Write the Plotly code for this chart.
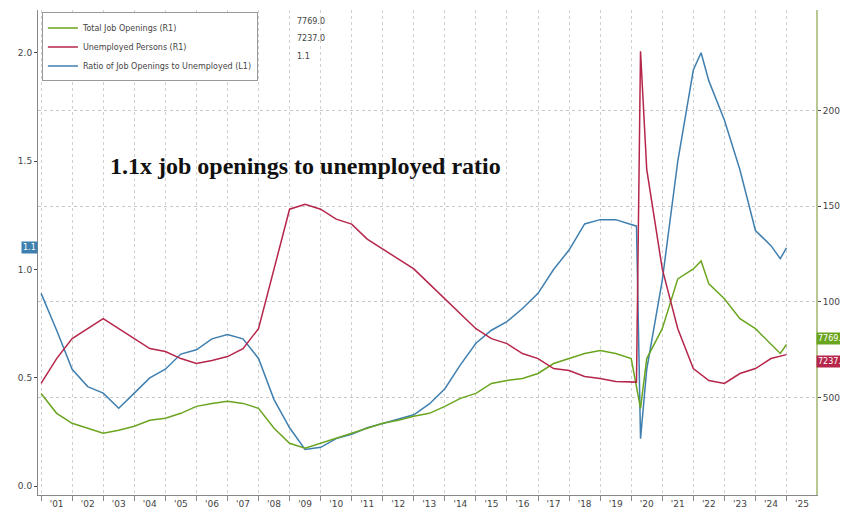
import plotly.graph_objects as go

ratio_t = [2001.0,2001.5,2002.0,2002.5,2003.0,2003.5,2004.0,2004.5,2005.0,2005.5,2006.0,2006.5,2007.0,2007.5,2008.0,2008.5,2009.0,2009.5,2010.0,2010.5,2011.0,2011.5,2012.0,2012.5,2013.0,2013.5,2014.0,2014.5,2015.0,2015.5,2016.0,2016.5,2017.0,2017.5,2018.0,2018.5,2019.0,2019.5,2020.0,2020.17,2020.3,2020.5,2021.0,2021.5,2022.0,2022.25,2022.5,2023.0,2023.5,2024.0,2024.5,2024.8,2025.0]
ratio_v = [0.89,0.72,0.54,0.46,0.43,0.36,0.43,0.50,0.54,0.61,0.63,0.68,0.70,0.68,0.59,0.40,0.27,0.17,0.18,0.22,0.24,0.27,0.29,0.31,0.33,0.38,0.45,0.56,0.66,0.72,0.76,0.82,0.89,1.00,1.09,1.21,1.23,1.23,1.21,1.20,0.22,0.54,0.95,1.50,1.92,2.00,1.87,1.69,1.46,1.18,1.11,1.05,1.10]

unemp_t = [2001.0,2001.5,2002.0,2002.5,2003.0,2003.5,2004.0,2004.5,2005.0,2005.5,2006.0,2006.5,2007.0,2007.5,2008.0,2008.5,2009.0,2009.5,2010.0,2010.5,2011.0,2011.5,2012.0,2012.5,2013.0,2013.5,2014.0,2014.5,2015.0,2015.5,2016.0,2016.5,2017.0,2017.5,2018.0,2018.5,2019.0,2019.5,2020.0,2020.17,2020.3,2020.5,2021.0,2021.5,2022.0,2022.5,2023.0,2023.5,2024.0,2024.5,2025.0]
unemp_v = [5729,7031,8073,8594,9114,8594,8073,7552,7396,7031,6771,6927,7135,7552,8594,11718,14843,15100,14843,14322,14062,13281,12760,12239,11718,10937,10156,9375,8594,8073,7812,7292,7031,6510,6406,6094,5990,5833,5833,5800,23100,16926,11718,8594,6510,5885,5729,6250,6510,7031,7237]

open_t = [2001.0,2001.5,2002.0,2002.5,2003.0,2003.5,2004.0,2004.5,2005.0,2005.5,2006.0,2006.5,2007.0,2007.5,2008.0,2008.5,2009.0,2009.5,2010.0,2010.5,2011.0,2011.5,2012.0,2012.5,2013.0,2013.5,2014.0,2014.5,2015.0,2015.5,2016.0,2016.5,2017.0,2017.5,2018.0,2018.5,2019.0,2019.5,2020.0,2020.3,2020.5,2021.0,2021.5,2022.0,2022.25,2022.5,2023.0,2023.5,2024.0,2024.5,2024.8,2025.0]
open_v = [5208,4167,3646,3385,3125,3281,3490,3802,3906,4167,4531,4687,4792,4687,4427,3385,2604,2344,2604,2865,3125,3385,3646,3802,4010,4167,4531,4948,5208,5729,5885,5990,6250,6771,7031,7292,7448,7292,7031,4427,7031,8594,11198,11718,12135,10937,10156,9114,8594,7812,7300,7769]

years = list(range(2001, 2026))
year_labels = ["'%02d" % (y % 100) for y in years]

fig = go.Figure()
fig.add_trace(go.Scatter(x=open_t, y=open_v, name="Total Job Openings (R1)", yaxis="y2",
                         line=dict(color="#6aa51f", width=1.5)))
fig.add_trace(go.Scatter(x=unemp_t, y=unemp_v, name="Unemployed Persons (R1)", yaxis="y2",
                         line=dict(color="#b5264a", width=1.5)))
fig.add_trace(go.Scatter(x=ratio_t, y=ratio_v, name="Ratio of Job Openings to Unemployed (L1)",
                         line=dict(color="#3f7fb0", width=1.5)))

fig.update_layout(
    width=848, height=510, plot_bgcolor="white", paper_bgcolor="white",
    margin=dict(l=30, r=40, t=2, b=23),
    font=dict(family="DejaVu Sans", size=9, color="#444"),
    showlegend=True,
    legend=dict(x=0.005, y=0.995, xanchor="left", yanchor="top", bgcolor="white",
                bordercolor="#999", borderwidth=1, font=dict(size=8), traceorder="normal",
                itemwidth=30, tracegroupgap=0),
    xaxis=dict(range=[2000.9, 2025.95], tickvals=[y + 0.5 for y in years], ticktext=year_labels,
               showgrid=False, zeroline=False, showline=True, linecolor="#888", ticks="",
               minor=dict(tickvals=years, showgrid=True, gridcolor="#d0d0d0", griddash="dot", ticks="outside", ticklen=5, tickcolor="#888")),
    yaxis=dict(range=[-0.04, 2.197], tickvals=[0, 0.5, 1.0, 1.5, 2.0], tickformat=".1f",
               showgrid=False, zeroline=False, showline=True, linecolor="#888", ticks="outside", ticklen=3),
    yaxis2=dict(range=[-104, 25260], overlaying="y", side="right", tickvals=[5000, 10000, 15000, 20000],
                tickformat="d", showgrid=True, gridcolor="#c8c8c8", griddash="dot", zeroline=False, showline=True,
                linecolor="#b8c890", linewidth=2, ticks="outside", ticklen=3),
)

fig.add_annotation(text="<b>1.1x job openings to unemployed ratio</b>", xref="paper", yref="paper",
                   x=0.09, y=0.71, showarrow=False, xanchor="left",
                   font=dict(family="Liberation Serif", size=24, color="#111"))
fig.add_annotation(text="7769.0", x=1.0, xref="paper", y=open_v[-1] + 300, yref="y2", xanchor="left",
                   showarrow=False, bgcolor="#6aa51f", font=dict(color="white", size=8), borderpad=1)
fig.add_annotation(text="7237.0", x=1.0, xref="paper", y=unemp_v[-1] - 350, yref="y2", xanchor="left",
                   showarrow=False, bgcolor="#b5264a", font=dict(color="white", size=8), borderpad=1)
fig.add_annotation(text="1.1", x=0.0, xref="paper", y=1.1, yref="y", xanchor="right",
                   showarrow=False, bgcolor="#3f7fb0", font=dict(color="white", size=8))
for i, val in enumerate(["7769.0", "7237.0", "1.1"]):
    fig.add_annotation(text=val, xref="paper", yref="paper", x=0.33, y=0.99 - i * 0.036,
                       yanchor="top", xanchor="left", showarrow=False, font=dict(size=8))

fig.write_html("out.html")
